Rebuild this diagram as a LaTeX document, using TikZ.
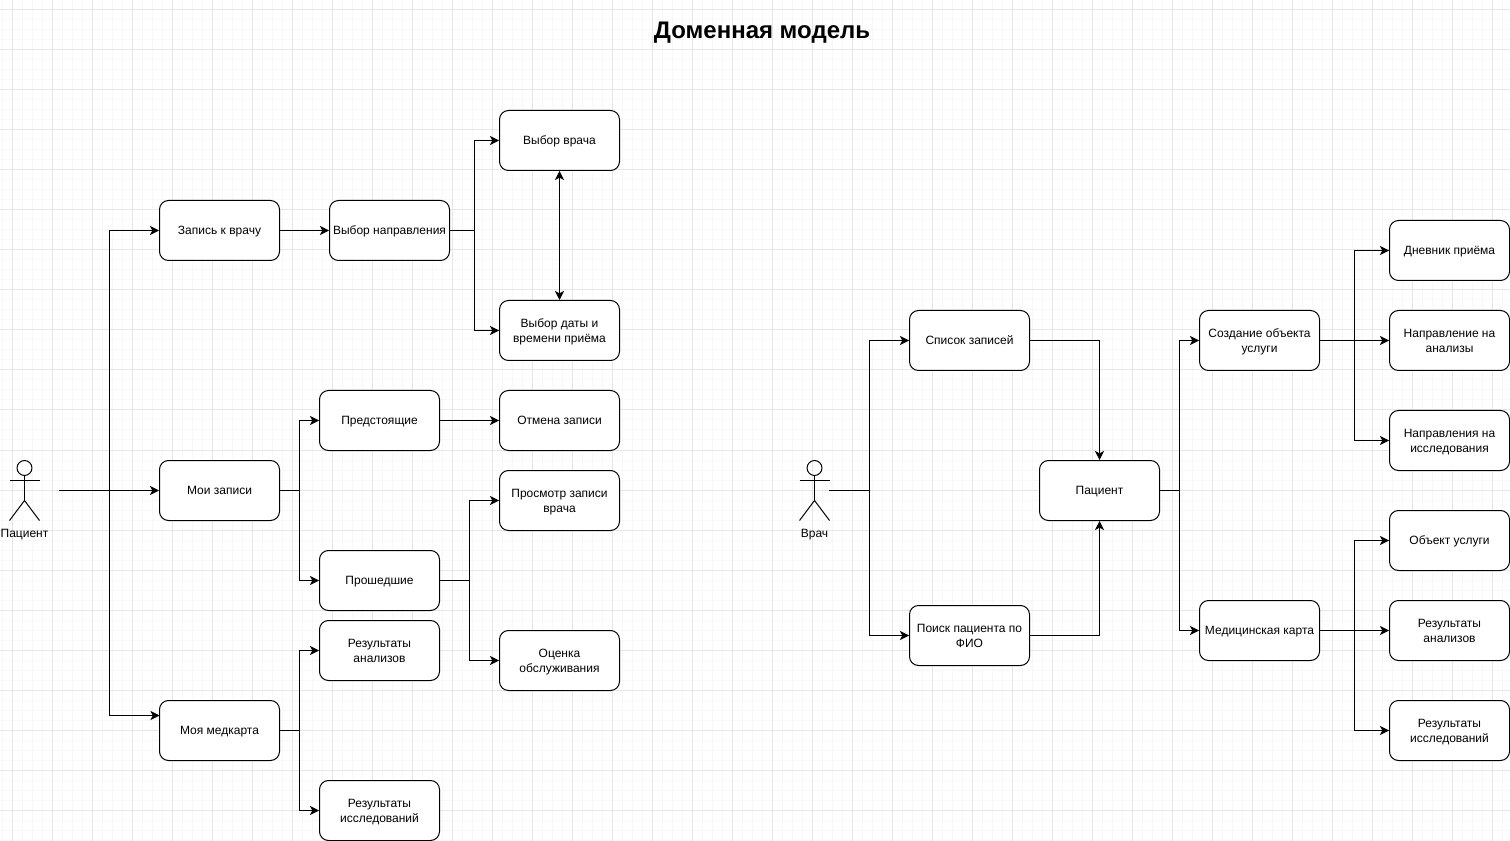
\documentclass[tikz,border=0pt]{standalone}
\usepackage{fontspec}
\setmainfont{Liberation Sans}
\usetikzlibrary{arrows.meta}
\tikzset{
    labelText/.style={font=\fontsize{9}{11.25}\selectfont, text height=8.2pt, text depth=2.5pt},
    box/.style={draw=black, fill=white, line width=0.75pt, rounded corners=6.75pt, minimum width=90pt, minimum height=45pt, inner sep=0pt, align=center, labelText},
    twoLine/.style={box, text height=20.2pt, text depth=2.5pt},
    conn/.style={draw=black, line width=0.75pt, -{Stealth[length=6.8pt, width=6.8pt, inset=1.8pt]}},
    twoway/.style={draw=black, line width=0.75pt, {Stealth[length=6.8pt, width=6.8pt, inset=1.8pt]}-{Stealth[length=6.8pt, width=6.8pt, inset=1.8pt]}},
    wire/.style={draw=black, line width=0.75pt},
    actorLabel/.style={inner sep=0pt, labelText},
    actor/.pic={
        \draw[wire] (0,-22.5) circle[radius=5.6pt];
        \draw[wire] (0,-15) -- (0,10);
        \draw[wire] (-15,-10) -- (15,-10);
        \draw[wire] (-15,30) -- (0,10) -- (15,30);
    }
}
\begin{document}
\begin{tikzpicture}[x=0.75pt, y=-0.75pt]
    \definecolor{gridMajor}{HTML}{E6E6E6}
    \definecolor{gridMinor}{HTML}{F8F8F8}

    \useasboundingbox[fill=white] (0,0) rectangle (1510,841);

    % Draw grid
    \foreach \x in {2.5,12.5,...,1510}
        \draw[gridMinor, line width=0.75pt] (\x,0) -- (\x,841);
    \foreach \y in {0,10,...,841}
        \draw[gridMinor, line width=0.75pt] (0,\y) -- (1510,\y);
    \foreach \x in {12.5,52.5,...,1510}
        \draw[gridMajor, line width=0.75pt] (\x,0) -- (\x,841);
    \foreach \y in {10,50,...,841}
        \draw[gridMajor, line width=0.75pt] (0,\y) -- (1510,\y);

    \node[inner sep=0pt, font=\fontsize{18}{22}\selectfont\bfseries] (title) at (762,33) {Доменная модель};

    % Patient side
    \pic at (24.5,490.5) {actor};
    \node[actorLabel] (patientLabel) at (24.5,533.5) {Пациент};
    \coordinate (patientOut) at (59,490.5);
    \coordinate (patientBus) at (109.5,490.5);

    \node[box] (zapis) at (219.5,230.5) {Запись к врачу};
    \node[box] (moiZapisi) at (219.5,490.5) {Мои записи};
    \node[box] (medkarta) at (219.5,730.5) {Моя медкарта};
    \coordinate (medkartaIn) at (159.5,715.5);

    \node[box] (napravlenie) at (389.5,230.5) {Выбор направления};
    \node[box] (vrach) at (559.5,140.5) {Выбор врача};
    \node[twoLine] (data) at (559.5,330.5) {Выбор даты и\\времени приёма};

    \node[box] (predst) at (379.5,420.5) {Предстоящие};
    \node[box] (proshed) at (379.5,580.5) {Прошедшие};
    \node[box] (otmena) at (559.5,420.5) {Отмена записи};
    \node[twoLine] (prosmotr) at (559.5,500.5) {Просмотр записи\\врача};
    \node[twoLine] (ocenka) at (559.5,660.5) {Оценка\\обслуживания};

    \node[twoLine] (rezAnaliz) at (379.5,650.5) {Результаты\\анализов};
    \node[twoLine] (rezIssled) at (379.5,810.5) {Результаты\\исследований};

    \coordinate (napravBus) at (474.5,230.5);
    \coordinate (zapisiBus) at (299.5,490.5);
    \coordinate (proshedBus) at (469.5,580.5);
    \coordinate (medkartaBus) at (299.5,730.5);

    \draw[wire, line width=1.1pt] (patientOut) -- (patientBus);
    \draw[conn] (patientBus) |- (zapis);
    \draw[conn] (patientBus) -- (moiZapisi);
    \draw[conn] (patientBus) |- (medkartaIn);

    \draw[conn] (zapis) -- (napravlenie);
    \draw[wire] (napravlenie) -- (napravBus);
    \draw[conn] (napravBus) |- (vrach);
    \draw[conn] (napravBus) |- (data);
    \draw[twoway] (vrach) -- (data);

    \draw[wire] (moiZapisi) -- (zapisiBus);
    \draw[conn] (zapisiBus) |- (predst);
    \draw[conn] (zapisiBus) |- (proshed);
    \draw[conn] (predst) -- (otmena);
    \draw[wire] (proshed) -- (proshedBus);
    \draw[conn] (proshedBus) |- (prosmotr);
    \draw[conn] (proshedBus) |- (ocenka);

    \draw[wire] (medkarta) -- (medkartaBus);
    \draw[conn] (medkartaBus) |- (rezAnaliz);
    \draw[conn] (medkartaBus) |- (rezIssled);

    % Doctor side
    \pic at (814.5,490.5) {actor};
    \node[actorLabel] (doctorLabel) at (814.5,533.5) {Врач};
    \coordinate (doctorOut) at (829,490.5);
    \coordinate (doctorBus) at (869.5,490.5);

    \node[box] (spisok) at (969.5,340.5) {Список записей};
    \node[twoLine] (poisk) at (969.5,635.5) {Поиск пациента по\\ФИО};
    \node[box] (pacient) at (1099.5,490.5) {Пациент};

    \node[twoLine] (sozdanie) at (1259.5,340.5) {Создание объекта\\услуги};
    \node[box] (medCard) at (1259.5,630.5) {Медицинская карта};

    \node[box] (dnevnik) at (1449.5,250.5) {Дневник приёма};
    \node[twoLine] (naprAnaliz) at (1449.5,340.5) {Направление на\\анализы};
    \node[twoLine] (naprIssled) at (1449.5,440.5) {Направления на\\исследования};
    \node[box] (obektUslugi) at (1449.5,540.5) {Объект услуги};
    \node[twoLine] (rezAnaliz2) at (1449.5,630.5) {Результаты\\анализов};
    \node[twoLine] (rezIssled2) at (1449.5,730.5) {Результаты\\исследований};

    \coordinate (pacientBus) at (1179.5,490.5);
    \coordinate (sozdanieBus) at (1354.5,340.5);
    \coordinate (medCardBus) at (1354.5,630.5);

    \draw[wire] (doctorOut) -- (doctorBus);
    \draw[conn] (doctorBus) |- (spisok);
    \draw[conn] (doctorBus) |- (poisk);
    \draw[conn] (spisok) -| (pacient);
    \draw[conn] (poisk) -| (pacient);

    \draw[wire] (pacient) -- (pacientBus);
    \draw[conn] (pacientBus) |- (sozdanie);
    \draw[conn] (pacientBus) |- (medCard);

    \draw[conn] (sozdanie) -- (naprAnaliz);
    \draw[conn] (sozdanieBus) |- (dnevnik);
    \draw[conn] (sozdanieBus) |- (naprIssled);

    \draw[conn] (medCard) -- (rezAnaliz2);
    \draw[conn] (medCardBus) |- (obektUslugi);
    \draw[conn] (medCardBus) |- (rezIssled2);
\end{tikzpicture}
\end{document}
